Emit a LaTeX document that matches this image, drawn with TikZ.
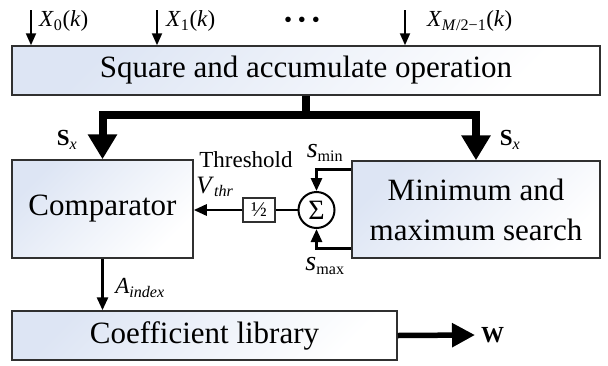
\documentclass[tikz,border=0pt]{standalone}
\usepackage{fontspec}
\setmainfont{Liberation Serif}
\usetikzlibrary{arrows.meta,positioning,calc}
\definecolor{edge}{HTML}{303030}
\definecolor{boxblue}{HTML}{DDE5F4}
\tikzset{
  block/.style={draw=edge, line width=1.5pt, top color=boxblue, bottom color=white, shading angle=45, align=center, inner sep=0pt, font=\fontsize{31}{40}\selectfont},
  lbl/.style={inner sep=0pt, font=\fontsize{23}{26}\selectfont},
  inarrow/.style={-{Triangle[length=12pt, width=10pt]}, line width=2pt},
  sig/.style={line width=2.8pt},
  sigarrow/.style={sig, -{Triangle[length=13pt, width=11pt]}},
  bus/.style={line width=8pt, -{Triangle[length=25pt, width=28pt]}},
  busline/.style={line width=8pt},
  wide/.style={line width=5.5pt, -{Triangle[length=23pt, width=23pt]}}
}
\newcommand{\lo}[1]{\textsubscript{#1}}

\begin{document}
\begin{tikzpicture}[x=1pt, y=-1pt]
\useasboundingbox (0,0) rectangle (608,365);

\node[block, minimum width=588pt, minimum height=49pt] (sqacc) at (306,70.5)
  {Square and accumulate operation};
\node[block, minimum width=181pt, minimum height=98pt] (comp) at (102.5,209)
  {Comparator};
\node[block, minimum width=248pt, minimum height=97pt] (minmax) at (476,209.5)
  {Minimum and\\maximum search};
\node[block, minimum width=385pt, minimum height=49pt] (coef) at (204.5,335.5)
  {Coefficient library};

% inputs
\coordinate (in0) at (31,10);
\coordinate (in1) at (157,10);
\coordinate (in2) at (405,10);
\draw[inarrow] (in0) -- (in0 |- sqacc.north);
\draw[inarrow] (in1) -- (in1 |- sqacc.north);
\draw[inarrow] (in2) -- (in2 |- sqacc.north);
\node[lbl, anchor=west] (x0) at (39,21) {\textit{X}\lo{0}(\textit{k})};
\node[lbl, anchor=west] (x1) at (166,21) {\textit{X}\lo{1}(\textit{k})};
\node[lbl] (dots) at (302,22) {\textbullet\ \textbullet\ \textbullet};
\node[lbl, anchor=west] (xm) at (427,21) {\textit{X}\lo{\textit{M}/2−1}(\textit{k})};

% energy bus
\draw[busline] (sqacc.south) -- ++(0,19) coordinate (split);
\draw[bus] (split) -| (comp.north);
\draw[bus] (split) -| (minmax.north);
\node[lbl] (sxl) at (67,140) {\textbf{S}\lo{\textit{x}}};
\node[lbl] (sxr) at (510,140) {\textbf{S}\lo{\textit{x}}};

% threshold path
\node[circle, draw=black, line width=2pt, minimum size=36pt, inner sep=0pt,
  font=\fontsize{28}{30}\selectfont] (sum) at (316.5,210) {Σ};
\node[draw=edge, line width=1.5pt, fill=white, minimum width=32pt, minimum height=24pt,
  inner sep=0pt, font=\fontsize{21}{24}\selectfont] (half) at (259,210) {½};
\draw[sig] (sum.west) -- (half.east);
\draw[sigarrow] (half.west) -- (half.west -| comp.east);
\draw[sigarrow] ($(minmax.north west)+(0,9)$) -| (sum.north);
\draw[sigarrow] ($(minmax.south west)+(0,-10)$) -| (sum.south);
\node[lbl] (thr) at (246,160) {Threshold};
\node[lbl] (vthr) at (215,187) {{\fontsize{25}{26}\selectfont\textit{V}}\lo{\textit{thr}}};
\node[lbl] (smin) at (325,153) {{\fontsize{28}{28}\selectfont\textit{s}}\lo{min}};
\node[lbl] (smax) at (325,266) {{\fontsize{28}{28}\selectfont\textit{s}}\lo{max}};

% output
\draw[sigarrow] (comp.south) -- (comp.south |- coef.north);
\node[lbl] (aidx) at (140,288) {\textit{A}\lo{\textit{index}}};
\node[lbl, anchor=west, inner sep=6pt, font=\fontsize{23}{24}\selectfont\bfseries] (w) at (475,335) {W};
\draw[wide] (coef.east) -- (w.west);
\end{tikzpicture}
\end{document}
